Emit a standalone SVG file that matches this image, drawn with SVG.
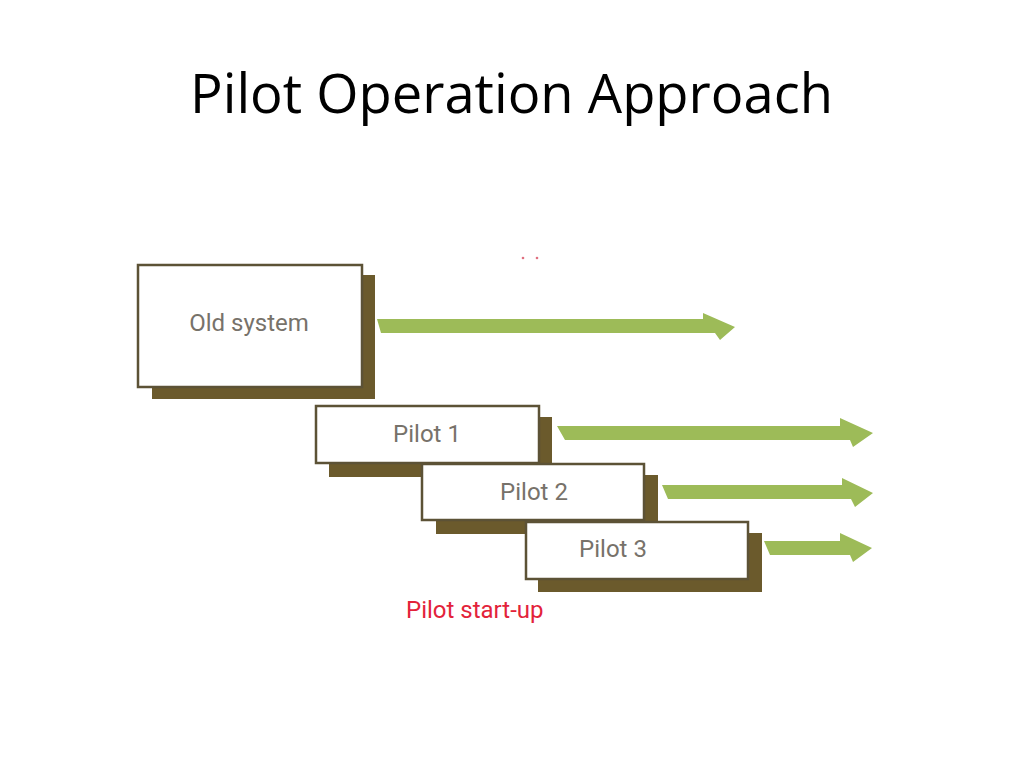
<svg xmlns="http://www.w3.org/2000/svg" width="1024" height="768" viewBox="0 0 1024 768">
<style>
.shadow{fill:#6b5a2c}
.box{fill:#ffffff;stroke:#5c5236;stroke-width:2.5}
.lbl{font-family:Roboto,"Liberation Sans",sans-serif;font-size:24px;fill:#77726a;text-anchor:middle}
.arrow{fill:#9dbb58}
.title{font-family:"Open Sans","Liberation Sans",sans-serif;font-size:54px;fill:#000000}
.red{font-family:Roboto,"Liberation Sans",sans-serif;font-size:24px;fill:#e3223a}
</style>
<rect width="1024" height="768" fill="#ffffff"/>
<text class="title" x="190" y="113" textLength="643" lengthAdjust="spacingAndGlyphs">Pilot Operation Approach</text>
<circle cx="523" cy="258" r="1.3" fill="#e07080"/>
<circle cx="537" cy="258" r="1.3" fill="#e07080"/>
<g id="connectors">
<polygon class="arrow" points="377,319 703,319 703,313 735,327 720,340 715,333 381,333"/>
<polygon class="arrow" points="557,426 840,426 840,418 873,433 853,447 850,440 565,440"/>
<polygon class="arrow" points="662,485 842,485 842,478 873,493 855,507 851,499 668,499"/>
<polygon class="arrow" points="764,541 840,541 840,533 872,548 853,562 850,555 770,555"/>
</g>
<g id="old-system">
<rect class="shadow" x="152" y="275" width="223" height="124"/>
<rect class="box" x="138" y="265" width="224" height="122"/>
<text class="lbl" x="249" y="331">Old system</text>
</g>
<g id="pilot-1">
<rect class="shadow" x="329" y="417" width="223" height="60"/>
<rect class="box" x="316" y="406" width="223" height="57"/>
<text class="lbl" x="427" y="442">Pilot 1</text>
</g>
<g id="pilot-2">
<rect class="shadow" x="436" y="475" width="222" height="59"/>
<rect class="box" x="422" y="464" width="222" height="56"/>
<text class="lbl" x="534" y="500">Pilot 2</text>
</g>
<g id="pilot-3">
<rect class="shadow" x="538" y="533" width="224" height="59"/>
<rect class="box" x="526" y="522" width="222" height="57"/>
<text class="lbl" x="613" y="557">Pilot 3</text>
</g>
<text class="red" x="406" y="618">Pilot start-up</text>
</svg>
